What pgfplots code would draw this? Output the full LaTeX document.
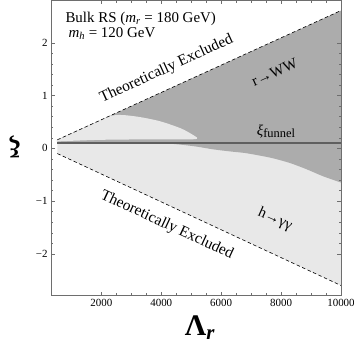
\documentclass[border=0pt]{standalone}
\usepackage{fontspec}
\setmainfont{Liberation Serif}
\usepackage{pgfplots}
\pgfplotsset{compat=1.18}
\usetikzlibrary{calc}

\definecolor{darkreg}{RGB}{172,172,172}
\definecolor{lightreg}{RGB}{232,232,232}
\definecolor{funnel}{RGB}{95,95,95}
\definecolor{frame}{RGB}{110,110,110}

% theoretical bounds
\pgfplotstableread{
L     up     lo
530   0.16  -0.10
10000 2.61  -2.60
}\bounds

\begin{document}
\begin{tikzpicture}
\begin{axis}[
    scale only axis, width=290bp, height=295bp,
    xmin=320, xmax=10000, ymin=-2.79, ymax=2.8,
    xtick={2000,4000,6000,8000,10000},
    xticklabels={2000,4000,6000,8000,10000},
    scaled x ticks=false,
    minor x tick num=3,
    ytick={-2,-1,0,1,2},
    yticklabels={−2,−1,0,1,2},
    minor y tick num=4,
    tick align=inside,
    major tick length=4bp, minor tick length=2.2bp,
    axis line style={frame, line width=0.5bp},
    every tick/.style={frame, line width=0.4bp},
    ticklabel style={font=\fontsize{11}{11}\selectfont},
    clip=false, axis on top,
    xlabel={\textbf{Λ\textsubscript{\textit{r}}}},
    xlabel style={at={(axis description cs:0.514,-0.1356)}, anchor=base,
        font=\fontsize{30}{30}\selectfont},
    ylabel={\textbf{ξ}},
    ylabel style={at={(axis description cs:-0.124,0.505)}, anchor=center,
        rotate=90, font=\fontsize{25}{25}\selectfont},
]
% upper half: r -> WW (dark)
\addplot[fill=darkreg, draw=none] coordinates {
    (530,0.10) (530,0.16) (10000,2.61) (10000,0.10)
} -- cycle;
% light lobe inside upper half
\addplot[fill=lightreg, draw=none, smooth, tension=0.5] coordinates {
    (530,0.13) (530,0.16) (1200,0.33) (1800,0.49) (2290,0.61)
    (2700,0.63) (3300,0.59) (3970,0.51) (4640,0.38) (4980,0.28)
    (5150,0.22) (5200,0.19) (5050,0.17) (4000,0.17) (2000,0.16) (530,0.13)
} -- cycle;
% lower half: h -> gamma gamma (light)
\addplot[fill=lightreg, draw=none] coordinates {
    (530,0.10) (10000,0.10) (10000,-2.60) (530,-0.10)
} -- cycle;
% dark region below the funnel line
\addplot[fill=darkreg, draw=none, smooth, tension=0.5] coordinates {
    (4000,0.10) (4630,0.07) (5200,0.03) (5730,-0.02) (6300,-0.06)
    (6800,-0.09) (7300,-0.14) (7730,-0.19) (8300,-0.28) (8860,-0.40)
    (9400,-0.53) (10000,-0.65)
} -- (axis cs:10000,0.10) -- cycle;
% funnel line
\addplot[funnel, line width=1.4bp] coordinates {(530,0.10) (10000,0.10)};
% theoretical bounds
\addplot[black, dashed, line width=0.6bp, dash pattern=on 3.5bp off 2.5bp]
    table[x=L, y=up] {\bounds};
\addplot[black, dashed, line width=0.6bp, dash pattern=on 3.5bp off 2.5bp]
    table[x=L, y=lo] {\bounds};

% labels
\node[anchor=base west, font=\fontsize{15}{15}\selectfont] at (axis cs:687,2.39)
    {Bulk RS (\textit{m}\textsubscript{\textit{r}} = 180 GeV)};
\node[anchor=base west, font=\fontsize{15}{15}\selectfont] at (axis cs:787,2.106)
    {\textit{m}\textsubscript{\textit{h}} = 120 GeV};
\node[rotate=24.5, font=\fontsize{15.5}{15.5}\selectfont] at (axis cs:4175,1.50)
    {Theoretically Excluded};
\node[rotate=-24.9, font=\fontsize{15.5}{15.5}\selectfont] at (axis cs:4190,-1.46)
    {Theoretically Excluded};
\node[rotate=24, font=\fontsize{15}{15}\selectfont] at (axis cs:7780,1.44)
    {r→WW};
\node[rotate=-24, font=\fontsize{15}{15}\selectfont] at (axis cs:7797,-1.35)
    {h→γγ};
\node[font=\fontsize{15}{15}\selectfont] at (axis cs:7830,0.32)
    {\textit{ξ}\raisebox{-0.3ex}{\fontsize{12.5}{12.5}\selectfont funnel}};
\end{axis}
\pgfresetboundingbox
\path[use as bounding box] ($(current axis.south west)+(-51bp,-50bp)$)
    rectangle ($(current axis.north east)+(13bp,0.5bp)$);
\end{tikzpicture}
\end{document}
